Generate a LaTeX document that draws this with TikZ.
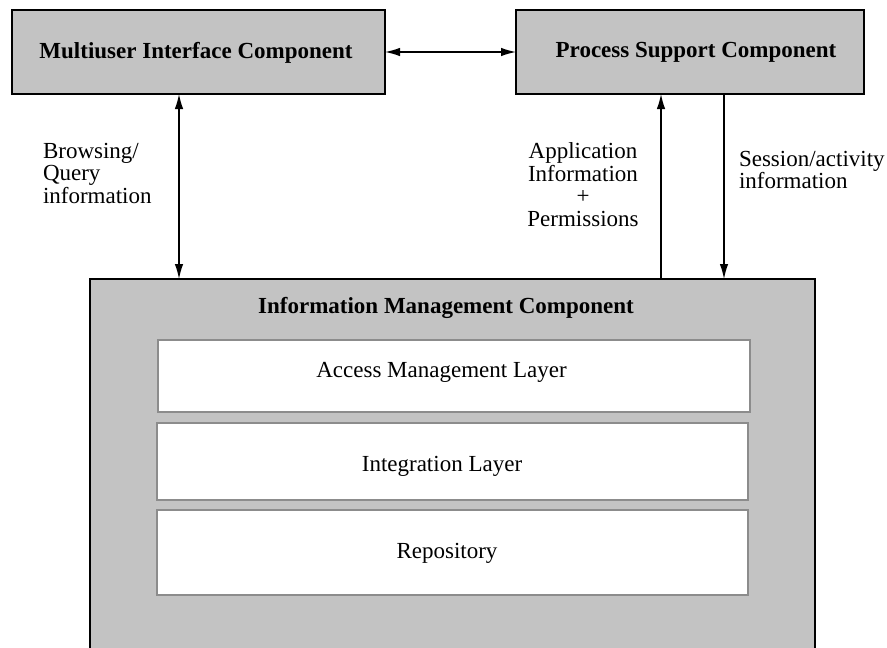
\documentclass[tikz,border=0pt]{standalone}
\usepackage{fontspec}
\setmainfont{Liberation Serif}
\usetikzlibrary{arrows.meta}
\definecolor{boxgray}{RGB}{195,195,195}
\definecolor{layergray}{RGB}{140,140,140}
\begin{document}
\begin{tikzpicture}[x=1pt,y=-1pt,
  every node/.style={font=\fontsize{23}{22.5}\selectfont, inner sep=0pt, outer sep=0pt},
  box/.style={draw=black, line width=1.5pt, fill=boxgray},
  layer/.style={draw=layergray, line width=1.5pt, fill=white},
  lbl/.style={anchor=base},
  bold/.style={font=\fontsize{23}{22.5}\selectfont\bfseries},
  arr/.style={line width=1.3pt, -{Latex[length=15pt,width=8.5pt]}},
  darr/.style={line width=1.3pt, {Latex[length=15pt,width=8.5pt]}-{Latex[length=15pt,width=8.5pt]}}
]
\useasboundingbox (0,0) rectangle (887,648);
\clip (0,0) rectangle (887,648);
\fill[white] (0,0) rectangle (887,648);

% boxes
\node[box, minimum width=373pt, minimum height=84pt] (mic) at (198.5,52) {};
\node[box, minimum width=348pt, minimum height=84pt] (psc) at (690,52) {};
\node[box, minimum width=725pt, minimum height=381pt] (imc) at (452.5,469.5) {};
\node[layer, minimum width=592pt, minimum height=72pt] (aml) at (454,376) {};
\node[layer, minimum width=591pt, minimum height=77pt] (il) at (452.5,461.5) {};
\node[layer, minimum width=591pt, minimum height=85pt] (rep) at (452.5,552.5) {};

% box titles
\node[lbl, bold] (mict) at (196,58) {Multiuser Interface Component};
\node[lbl, bold] (psct) at (696,57) {Process Support Component};
\node[lbl, bold] (imct) at (446,313) {Information Management Component};
\node[lbl] (amlt) at (441.5,377) {Access Management Layer};
\node[lbl] (ilt) at (442,471) {Integration Layer};
\node[lbl] (rept) at (447,558) {Repository};

% connectors
\coordinate (c1) at (179,0);
\coordinate (c2) at (661,0);
\coordinate (c3) at (724,0);
\draw[darr] (mic.east) -- (psc.west);
\draw[darr] (mic.south -| c1) -- (imc.north -| c1);
\draw[arr] (imc.north -| c2) -- (psc.south -| c2);
\draw[arr] (psc.south -| c3) -- (imc.north -| c3);

% connector labels
\node[anchor=north west, align=left] (l1) at (43,143) {Browsing/\\Query\\information};
\node[anchor=north, align=center] (l2) at (583,143) {Application\\Information\\+\\Permissions};
\node[anchor=north west, align=left] (l3) at (739,151) {Session/activity\\information};
\end{tikzpicture}
\end{document}
